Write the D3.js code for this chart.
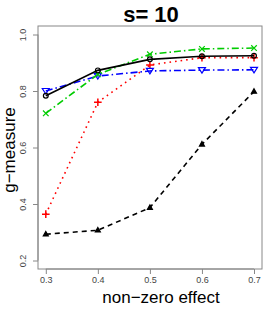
<!DOCTYPE html>
<html>
<head>
<meta charset="utf-8">
<script src="https://cdn.jsdelivr.net/npm/d3@7"></script>
<style>
body { margin: 0; background: #fff; }
svg text { font-family: "Liberation Sans", Arial, sans-serif; }
</style>
</head>
<body>
<div id="chart"></div>
<script>
// effect sizes on the x axis
var effects = [0.3, 0.4, 0.5, 0.6, 0.7];
var xTicks = [0.3, 0.4, 0.5, 0.6, 0.7];
var yTicks = [0.2, 0.4, 0.6, 0.8, 1.0];

// g-measure of each method
var blackSolid = [0.783, 0.873, 0.912, 0.923, 0.925];
var greenDash = [0.721, 0.859, 0.930, 0.949, 0.952];
var blueDash = [0.800, 0.853, 0.871, 0.874, 0.875];
var redDot = [0.364, 0.760, 0.892, 0.918, 0.918];
var blackDash = [0.293, 0.307, 0.387, 0.611, 0.798];

var width = 266, height = 310;
var box = { left: 38, right: 262, top: 26, bottom: 269 };

var svg = d3.select("#chart").append("svg")
    .attr("width", width)
    .attr("height", height);

var x = d3.scaleLinear().domain([0.3, 0.7]).range([45.8, 254]);
var y = d3.scaleLinear().domain([0.2, 1.0]).range([260.5, 34.5]);

// box
svg.append("rect")
    .attr("x", box.left)
    .attr("y", box.top)
    .attr("width", box.right - box.left)
    .attr("height", box.bottom - box.top)
    .attr("fill", "none")
    .attr("stroke", "#888")
    .attr("stroke-width", 1);

// axes
var xAxis = svg.append("g")
    .attr("transform", "translate(0," + box.bottom + ")")
    .call(d3.axisBottom(x).tickValues(xTicks).tickSize(5).tickPadding(3).tickFormat(d3.format(".1f")));
xAxis.select(".domain").attr("d", "M" + x(0.3) + ",0H" + x(0.7)).attr("stroke", "#888");
xAxis.selectAll(".tick line").attr("stroke", "#888");
xAxis.selectAll(".tick text").attr("font-size", 9).attr("fill", "#444");

var yAxis = svg.append("g")
    .attr("transform", "translate(" + box.left + ",0)")
    .call(d3.axisLeft(y).tickValues(yTicks).tickSize(5).tickFormat(d3.format(".1f")));
yAxis.select(".domain").attr("d", "M0," + y(0.2) + "V" + y(1.0)).attr("stroke", "#888");
yAxis.selectAll(".tick line").attr("stroke", "#888");
yAxis.selectAll(".tick text")
    .attr("font-size", 9)
    .attr("fill", "#444")
    .attr("x", null).attr("dy", null)
    .attr("text-anchor", "middle")
    .attr("transform", "translate(-12,0) rotate(-90)");

// title and axis labels
svg.append("text")
    .attr("x", 151).attr("y", 22)
    .attr("text-anchor", "middle")
    .attr("font-size", 22)
    .attr("font-weight", "bold")
    .text("s= 10");

svg.append("text")
    .attr("x", 161).attr("y", 303)
    .attr("text-anchor", "middle")
    .attr("font-size", 17)
    .text("non\u2212zero effect");

svg.append("text")
    .attr("transform", "translate(15,150) rotate(-90)")
    .attr("text-anchor", "middle")
    .attr("font-size", 17)
    .text("g\u2212measure");

var line = d3.line()
    .x(function (d, i) { return x(effects[i]); })
    .y(function (d) { return y(d); });

var series = [
    { values: blackDash, color: "#000", dash: "5,4", marker: "triUp" },
    { values: redDot, color: "#ff0000", dash: "1.6,4", marker: "plus" },
    { values: blueDash, color: "#0000ff", dash: "7,3,1.5,3", marker: "triDown" },
    { values: greenDash, color: "#00cc00", dash: "7,3,1.5,3", marker: "cross" },
    { values: blackSolid, color: "#000", dash: null, marker: "circle" }
];

series.forEach(function (s) {
    svg.append("path")
        .attr("d", line(s.values))
        .attr("fill", "none")
        .attr("stroke", s.color)
        .attr("stroke-width", 1.6)
        .attr("stroke-dasharray", s.dash);

    var pts = svg.append("g").selectAll("path")
        .data(s.values)
        .enter()
        .append("path")
        .attr("transform", function (d, i) { return "translate(" + x(effects[i]) + "," + y(d) + ")"; })
        .attr("stroke", s.color)
        .attr("stroke-width", 1.2);

    if (s.marker === "circle") {
        pts.attr("d", d3.symbol().type(d3.symbolCircle).size(18)).attr("fill", "none");
    } else if (s.marker === "triUp") {
        pts.attr("d", "M0,-2.8L2.5,1.7L-2.5,1.7Z").attr("fill", s.color);
    } else if (s.marker === "triDown") {
        pts.attr("d", "M0,3L3.5,-2.5L-3.5,-2.5Z").attr("fill", "none");
    } else if (s.marker === "plus") {
        pts.attr("d", "M-3.8,0H3.8M0,-3.8V3.8").attr("fill", "none").attr("stroke-width", 1.5);
    } else if (s.marker === "cross") {
        pts.attr("d", "M-2.8,-2.8L2.8,2.8M-2.8,2.8L2.8,-2.8").attr("fill", "none");
    }
});
</script>
</body>
</html>
